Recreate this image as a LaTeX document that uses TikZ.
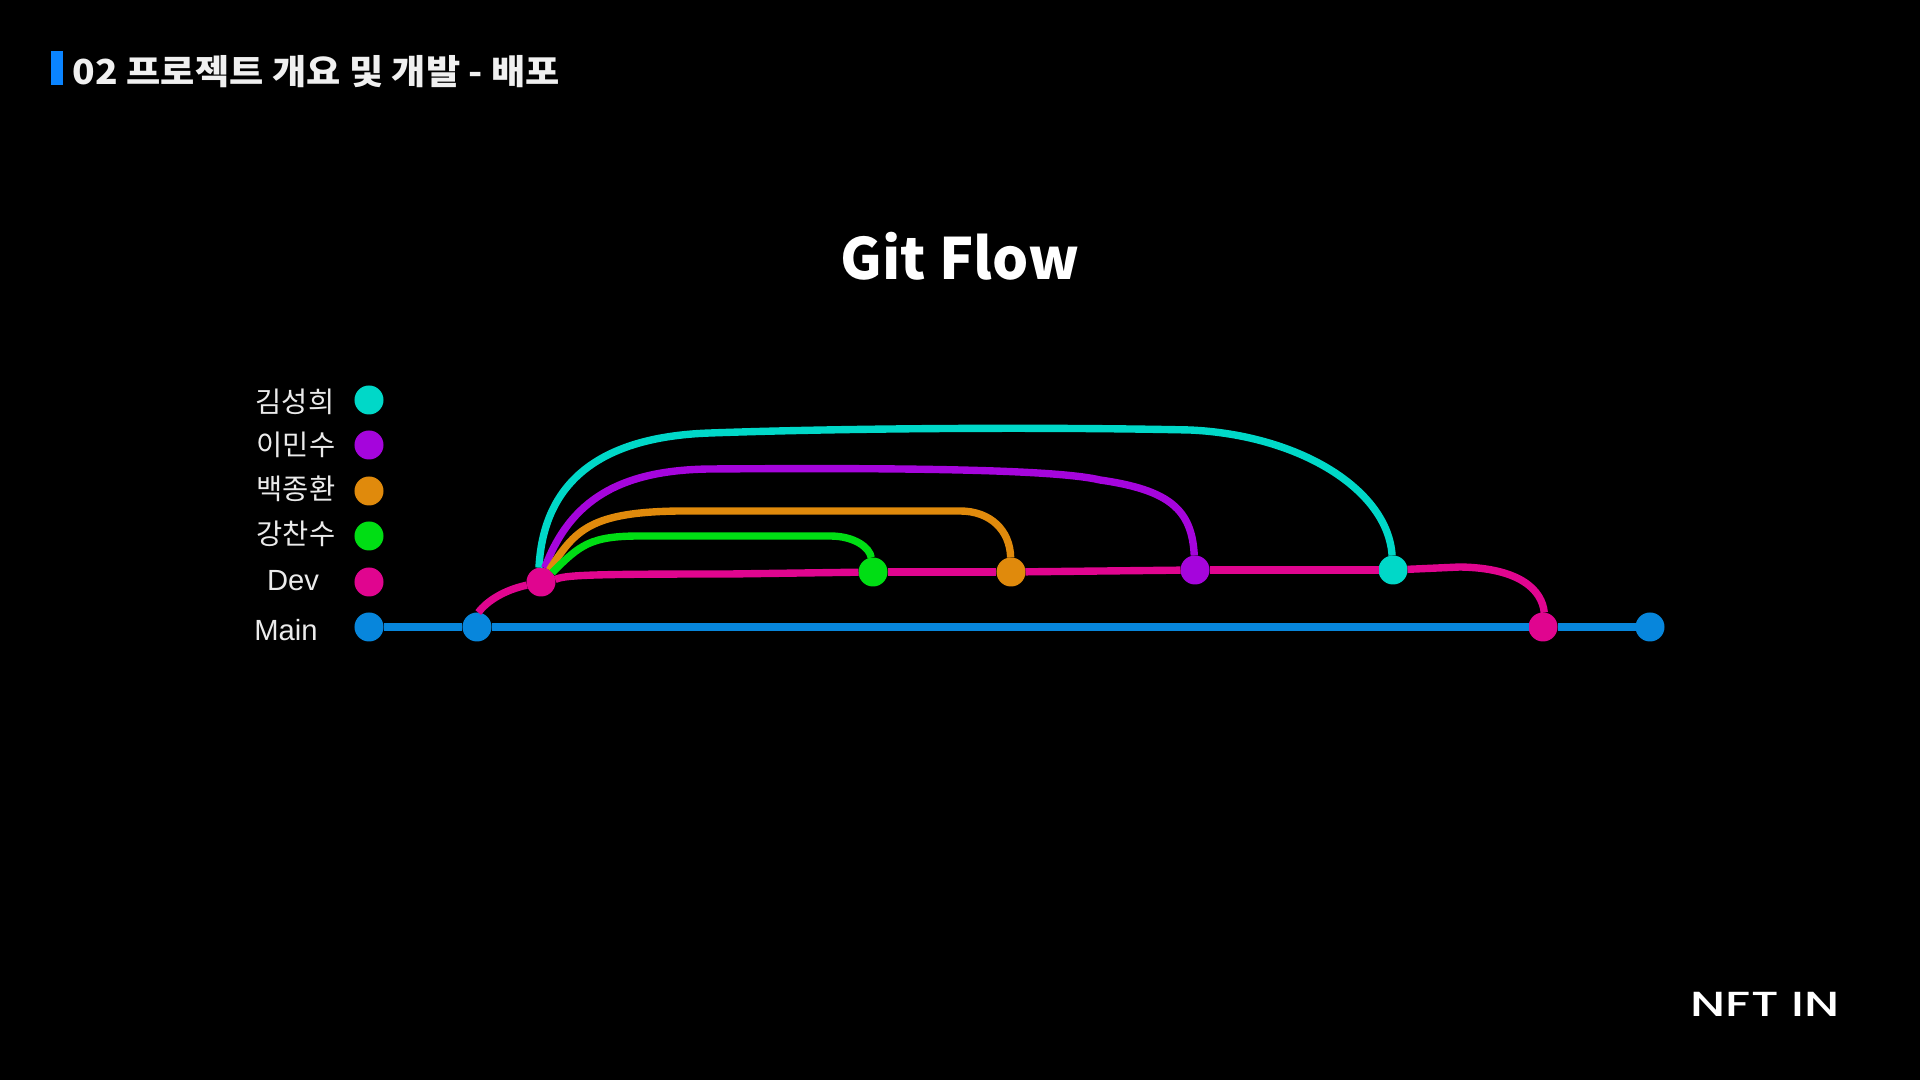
\documentclass[tikz,border=0pt]{standalone}
\usepackage{fontspec}
\setmainfont{Liberation Sans}
\newfontfamily\krfont{Noto Sans CJK KR}
\newfontfamily\logofont{Poppins Medium}
\usepackage{tikz}
\usetikzlibrary{arrows.meta,positioning,calc}

\definecolor{tealc}{HTML}{00D8C8}
\definecolor{purplec}{HTML}{A505DC}
\definecolor{orangec}{HTML}{E08A0C}
\definecolor{greenc}{HTML}{00DE14}
\definecolor{pinkc}{HTML}{E0058F}
\definecolor{bluec}{HTML}{0786DC}
\definecolor{barc}{HTML}{0A84FF}

\tikzset{
    dot/.style={circle,inner sep=0pt,outer sep=0pt,minimum size=29*0.2845pt,fill=#1},
    branch/.style={line width=2.1pt,#1},
    legend/.style={text=white!92!black,font=\krfont\fontsize{8.1pt}{9pt}\selectfont},
    legendlat/.style={text=white!92!black,font=\fontsize{8.3pt}{9pt}\selectfont},
}

\begin{document}
\begin{tikzpicture}[x=0.01cm,y=-0.01cm]
    \fill[black] (0,0) rectangle (1920,1080);
    \useasboundingbox (0,0) rectangle (1920,1080);

    % Header
    \fill[barc] (51,51) rectangle (63,85);
    \node[anchor=west,inner sep=0pt,text=white!94!black,xscale=1.08,font=\krfont\bfseries\fontsize{9.8pt}{11pt}\selectfont] (header) at (72,72) {02 프로젝트 개요 및 개발 - 배포};
    \node[text=white,font=\krfont\bfseries\fontsize{16.2pt}{18pt}\selectfont] (gitflow) at (960,256) {Git Flow};

    % Legend
    \node[dot=tealc] (lteal) at (369,400) {};
    \node[dot=purplec] (lpurple) at (369,445) {};
    \node[dot=orangec] (lorange) at (369,491) {};
    \node[dot=greenc] (lgreen) at (369,536) {};
    \node[dot=pinkc] (lpink) at (369,582) {};
    \node[dot=bluec] (main0) at (369,627) {};
    \node[legend] (tkim) at (295,402) {김성희};
    \node[legend] (tlee) at (296,445) {이민수};
    \node[legend] (tbaek) at (296,489) {백종환};
    \node[legend] (tkang) at (296,534) {강찬수};
    \node[legendlat] (tdev) at (293,581) {Dev};
    \node[legendlat] (tmain) at (286,630) {Main};

    % Commits
    \node[dot=bluec] (main1) at (477,627) {};
    \node[dot=pinkc] (dev1) at (541,582) {};
    \node[dot=greenc] (green1) at (873,572) {};
    \node[dot=orangec] (orange1) at (1011,572) {};
    \node[dot=purplec] (purple1) at (1195,570) {};
    \node[dot=tealc] (teal1) at (1393,570) {};
    \node[dot=pinkc] (main2) at (1543,627) {};
    \node[dot=bluec] (main3) at (1650,627) {};

    % Main line
    \draw[branch=bluec] (main0) -- (main1);
    \draw[branch=bluec] (main1) -- (main2);
    \draw[branch=bluec] (main2) -- (main3);

    % Dev line
    \draw[branch=pinkc] (main1.85) .. controls (488,600) and (505,590) .. (dev1);
    \draw[branch=pinkc] (dev1.10) .. controls (565,575) and (590,574) .. (730,574) -- (green1);
    \draw[branch=pinkc] (green1) -- (orange1);
    \draw[branch=pinkc] (orange1) -- (purple1);
    \draw[branch=pinkc] (purple1) -- (teal1);
    \draw[branch=pinkc] (teal1) -- (1460,567) .. controls (1520,568) and (1542,590) .. (main2.85);

    % Feature branches
    \draw[branch=tealc] (dev1.98) .. controls (543,490) and (590,437) .. (710,433) .. controls (850,428) and (1050,427) .. (1190,430) .. controls (1300,435) and (1388,490) .. (teal1);
    \draw[branch=purplec] (dev1.75) .. controls (570,500) and (620,470) .. (710,469) .. controls (860,468) and (1050,468) .. (1100,480) .. controls (1170,490) and (1192,510) .. (purple1);
    \draw[branch=orangec] (dev1.55) .. controls (575,530) and (590,512) .. (680,511) -- (960,511) .. controls (990,511) and (1010,530) .. (orange1);
    \draw[branch=greenc] (dev1.40) .. controls (580,545) and (590,536) .. (640,536) -- (830,536) .. controls (855,536) and (870,548) .. (green1);

    % Logo
    \node[text=white,xscale=1.4,font=\logofont\fontsize{9.9pt}{11pt}\selectfont] (logo) at (1765,1004) {NFT IN};
\end{tikzpicture}
\end{document}
